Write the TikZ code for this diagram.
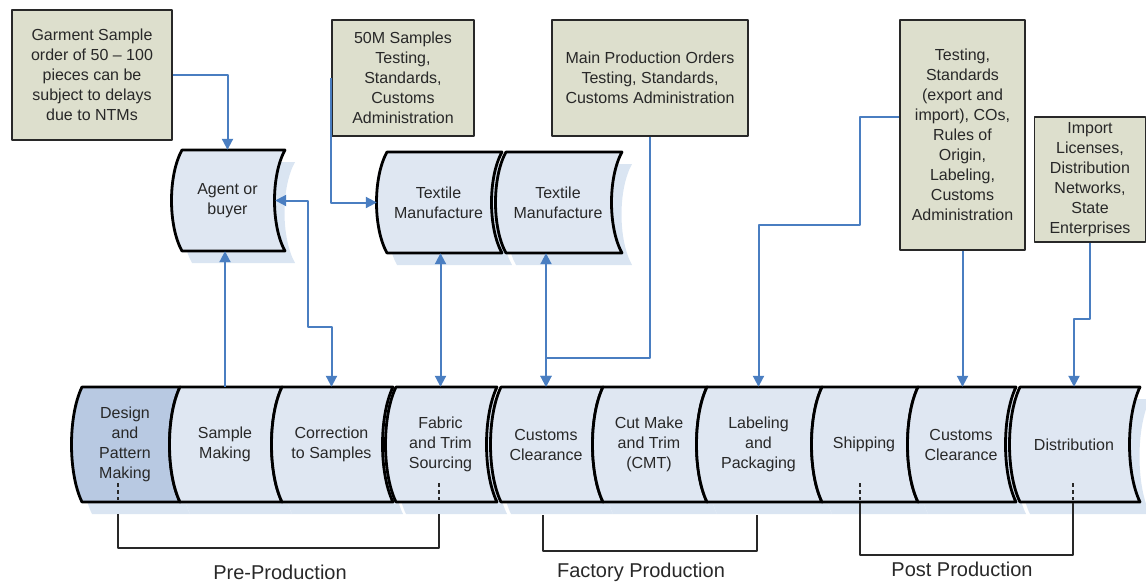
\documentclass[tikz,border=0pt]{standalone}
\usepackage{fontspec}
\setmainfont{Liberation Sans}
\usepackage{tikz}
\usetikzlibrary{arrows.meta, backgrounds}

\definecolor{stepblue}{RGB}{223,231,242}
\definecolor{designblue}{RGB}{184,201,226}
\definecolor{shadowblue}{RGB}{218,229,242}
\definecolor{notebeige}{RGB}{221,223,205}
\definecolor{linkblue}{RGB}{74,126,193}
\definecolor{inkgray}{RGB}{40,40,40}

\newcommand{\wavestep}[7][stepfill]{%
  \begin{pgfonlayer}{background}
    \fill[shadowblue, xshift=10pt, yshift=-12pt] (#3,#5) -- (#4,#5) .. controls (#4-14,0.75*#5+0.25*#6) and (#4-14,0.25*#5+0.75*#6) .. (#4,#6) -- (#3,#6) .. controls (#3-14,0.25*#5+0.75*#6) and (#3-14,0.75*#5+0.25*#6) .. (#3,#5) -- cycle;
  \end{pgfonlayer}
  \draw[stepline, #1] (#3,#5) -- (#4,#5) .. controls (#4-14,0.75*#5+0.25*#6) and (#4-14,0.25*#5+0.75*#6) .. (#4,#6) -- (#3,#6) .. controls (#3-14,0.25*#5+0.75*#6) and (#3-14,0.75*#5+0.25*#6) .. (#3,#5) -- cycle;
  \node[steptext, minimum width=#4-#3, minimum height=#6-#5] (#2) at (0.5*#3+0.5*#4-6,0.5*#5+0.5*#6) {#7};
}

\begin{document}
\begin{tikzpicture}[x=1pt, y=-1pt, line join=round,
  stepline/.style={draw=black, line width=2.8pt},
  stepfill/.style={fill=stepblue},
  designfill/.style={fill=designblue},
  steptext/.style={inner sep=0pt, align=center, text=inkgray, font=\fontsize{16}{20}\selectfont},
  infobox/.style={draw=inkgray, line width=1.6pt, fill=notebeige, inner sep=0pt, align=center, text=inkgray, font=\fontsize{16}{20}\selectfont},
  flow/.style={draw=linkblue, line width=2pt, >={Triangle[length=11pt,width=11pt]}},
  stub/.style={draw=inkgray, line width=1.5pt, dash pattern=on 4pt off 3pt},
  bracket/.style={draw=inkgray, line width=2pt},
  phase/.style={text=inkgray, font=\fontsize{20}{24}\selectfont}]
\useasboundingbox (0,0) rectangle (1146,584);

\node (garment) [infobox, minimum width=160, minimum height=130] at (92,75) {Garment Sample\\order of 50 -- 100\\pieces can be\\subject to delays\\due to NTMs};
\node (samples50) [infobox, minimum width=142, minimum height=116] at (403,78) {50M Samples\\Testing,\\Standards,\\Customs\\Administration};
\node (mainprod) [infobox, minimum width=196, minimum height=116] at (650,78) {Main Production Orders\\Testing, Standards,\\Customs Administration};
\node (testing) [infobox, minimum width=125, minimum height=230] at (962.5,135) {Testing,\\Standards\\(export and\\import), COs,\\Rules of\\Origin,\\Labeling,\\Customs\\Administration};
\node (imports) [infobox, minimum width=111, minimum height=125] at (1090,179.5) {Import\\Licenses,\\Distribution\\Networks,\\State\\Enterprises};

\wavestep{agent}{182}{285}{150}{251}{Agent or\\buyer}
\wavestep{tex1}{387}{502}{152}{253}{Textile\\Manufacture}
\wavestep{tex2}{506}{622}{152}{253}{Textile\\Manufacture}

\wavestep[designfill]{design}{82}{180}{387}{502}{Design\\and\\Pattern\\Making}
\wavestep{sample}{180}{282}{387}{502}{Sample\\Making}
\wavestep{correction}{282}{393}{387}{502}{Correction\\to Samples}
\wavestep{fabric}{396}{497}{387}{502}{Fabric\\and Trim\\Sourcing}
\wavestep{customs}{501}{603}{387}{502}{Customs\\Clearance}
\wavestep{cmt}{603}{707}{387}{502}{Cut Make\\and Trim\\(CMT)}
\wavestep{labeling}{707}{822}{387}{502}{Labeling\\and\\Packaging}
\wavestep{shipping}{822}{918}{387}{502}{Shipping}
\wavestep{customs2}{918}{1016}{387}{502}{Customs\\Clearance}
\wavestep{distribution}{1020}{1140}{387}{502}{Distribution}

\coordinate (corrbend) at (308,327);
\coordinate (labbend) at (860,225);

\draw [flow, ->] (garment.east) -| (agent.north);
\draw [flow, ->] (sample.north) -- (sample.north |- agent.south);
\draw [flow, <->] ([xshift=-4pt]agent.east) -| (corrbend) -| (correction.north);
\draw [flow, ->] (samples50.west) |- ([xshift=-4pt]tex1.west);
\draw [flow, <->] (fabric.north) -- (fabric.north |- tex1.south);
\draw [flow, <->] (customs.north) -- (customs.north |- tex2.south);
\draw [flow, ->] (mainprod.south) -- ++(0,221) -| (customs.north);
\draw [flow, ->] ([yshift=18pt]testing.west) -| (labbend) -| (labeling.north);
\draw [flow, ->] (testing.south) -- (testing.south |- customs2.north);
\draw [flow, ->] (imports.south) -- ++(0,76) -| (distribution.north);

\draw [stub] (118,483) -- (118,500);
\draw [stub] (439,483) -- (439,500);
\draw [stub] (860,483) -- (860,500);
\draw [stub] (1073,483) -- (1073,500);

\node (pre) [phase] at (280,572) {Pre-Production};
\node (factory) [phase] at (641,572) {Factory Production};
\node (post) [phase] at (962,569) {Post Production};

\draw [bracket] (118,514) -- (118,548) -- (439,548) -- (439,514);
\draw [bracket] (543,515) -- (543,551) -- (757,551) -- (757,515);
\draw [bracket] (860,503) -- (860,555) -- (1073,555) -- (1073,503);
\end{tikzpicture}
\end{document}
